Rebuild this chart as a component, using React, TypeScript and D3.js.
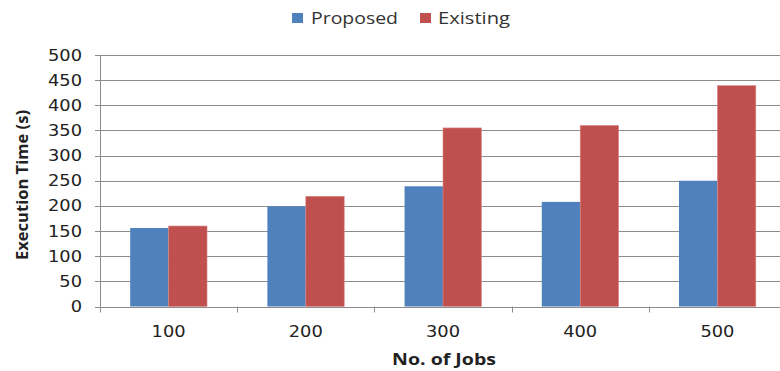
import React from "react";
import * as d3 from "d3";

const categories = ["100", "200", "300", "400", "500"];
const proposed = [156, 199, 239, 208, 250];
const existing = [160, 219, 355, 360, 439];
const seriesNames = ["Proposed", "Existing"];
const yTicks = [0, 50, 100, 150, 200, 250, 300, 350, 400, 450, 500];

const colors = ["#4F81BD", "#C0504D"];

export default function App() {
  const W = 780, H = 371;
  const left = 100, right = 786, top = 55, bottom = 306.5;
  const x = d3.scaleBand<string>().domain(categories).range([left, right]).paddingInner(0.44).paddingOuter(0.22);
  const xs = d3.scaleBand<string>().domain(seriesNames).range([0, x.bandwidth()]);
  const y = d3.scaleLinear().domain([0, 500]).range([bottom, top]);
  const font = "'DejaVu Sans', Verdana, sans-serif";
  const sans = "'Open Sans', sans-serif";
  const series = [proposed, existing];
  const legend = [
    { sx: 292, tx: 311, len: 87 },
    { sx: 420, tx: 438, len: 72 },
  ];
  return (
    <svg width={W} height={H} style={{ position: "absolute", left: 0, top: 0, background: "#fff" }}>
      {yTicks.map((t) => (
        <g key={t}>
          {t > 0 && <line x1={left} x2={W} y1={Math.round(y(t)) + 0.5} y2={Math.round(y(t)) + 0.5} stroke="#8c8c8c" strokeWidth={1} />}
          <line x1={left - 5} x2={left} y1={Math.round(y(t)) + 0.5} y2={Math.round(y(t)) + 0.5} stroke="#8c8c8c" />
          <text x={82} y={y(t)} dy="0.36em" textAnchor="end" fontFamily={font} fontSize={15.5} fill="#222" transform={`translate(82,0) scale(1.15,1) translate(-82,0)`}>{t}</text>
        </g>
      ))}
      {series.map((vals, si) =>
        categories.map((c, i) => (
          <rect key={si + "-" + c} x={(x(c) as number) + (xs(seriesNames[si]) as number)} y={y(vals[i])} width={xs.bandwidth()} height={bottom - y(vals[i])} fill={colors[si]} stroke={si === 1 ? "#d98a88" : "none"} strokeWidth={0.6} />
        ))
      )}
      <line x1={left + 0.5} x2={left + 0.5} y1={top} y2={bottom} stroke="#8c8c8c" />
      <line x1={left} x2={W} y1={Math.round(bottom) + 0.5} y2={Math.round(bottom) + 0.5} stroke="#8c8c8c" />
      {categories.map((c) => {
        const tx = Math.round((x(c) as number) - (x.step() - x.bandwidth()) / 2) + 0.5;
        return <line key={"t" + c} x1={tx} x2={tx} y1={bottom} y2={bottom + 6} stroke="#8c8c8c" />;
      })}
      {categories.map((c) => {
        const cx = (x(c) as number) + x.bandwidth() / 2;
        return <text key={"l" + c} x={cx} y={337} textAnchor="middle" fontFamily={font} fontSize={15.5} fill="#222" transform={`translate(${cx},0) scale(1.15,1) translate(${-cx},0)`}>{c}</text>;
      })}
      <text x={444} y={365} textAnchor="middle" fontFamily={sans} fontWeight="bold" fontSize={16} textLength={104} lengthAdjust="spacingAndGlyphs" fill="#222">No. of Jobs</text>
      <text transform={`translate(28,185) rotate(-90)`} textAnchor="middle" fontFamily={sans} fontWeight="bold" fontSize={16.5} textLength={150} lengthAdjust="spacingAndGlyphs" fill="#222">Execution Time (s)</text>
      {seriesNames.map((s, i) => (
        <g key={s}>
          <rect x={legend[i].sx} y={13} width={11} height={10} fill={colors[i]} />
          <text x={legend[i].tx} y={23.5} fontFamily={sans} fontSize={17} textLength={legend[i].len} lengthAdjust="spacingAndGlyphs" fill="#333">{s}</text>
        </g>
      ))}
    </svg>
  );
}
